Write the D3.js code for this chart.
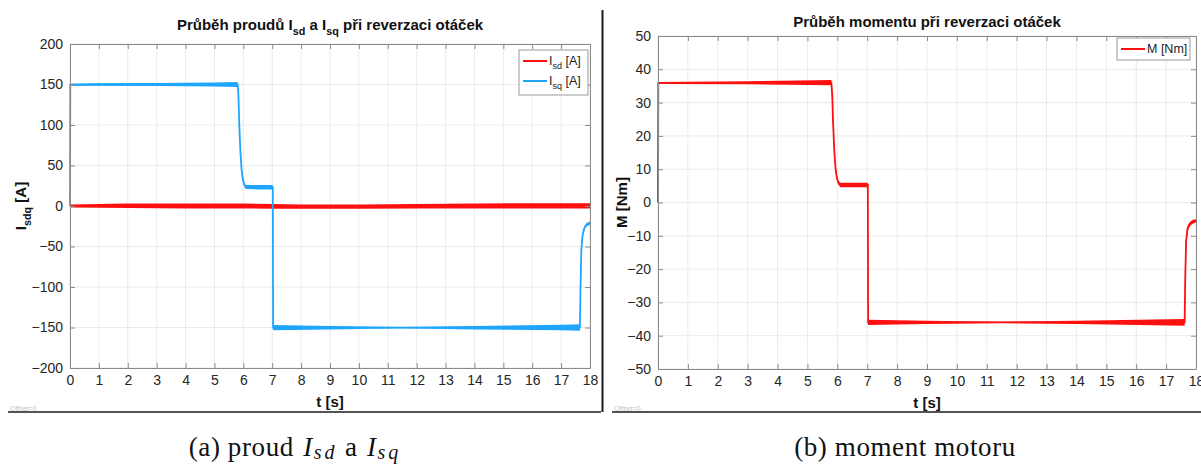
<!DOCTYPE html>
<html><head><meta charset="utf-8">
<script src="https://cdn.jsdelivr.net/npm/d3@7"></script>
<style>
body{margin:0;background:#fff;}
svg{display:block;font-family:"Liberation Sans",Arial,sans-serif;}
</style>
</head><body>
<svg id="c" width="1201" height="465"></svg>
<script>
// ---------- tick labels ----------
const timeTicks = [0,1,2,3,4,5,6,7,8,9,10,11,12,13,14,15,16,17,18];
const currentTicks = [-200,-150,-100,-50,0,50,100,150,200];
const torqueTicks = [-50,-40,-30,-20,-10,0,10,20,30,40,50];

// ---------- I_sq envelope (t [s], lower, upper) ----------
const isqT  = [0, 0.01, 1, 3, 5, 5.8, 5.83, 5.86, 5.9, 5.94, 5.98, 6.02, 6.08, 6.5, 7.02, 7.03, 9, 11.5, 14, 17.0, 17.65, 17.67, 17.7, 17.74, 17.8, 17.88, 18];
const isqLo = [0, 148.5, 148.5, 148, 147.5, 147, 130, 95, 62, 42, 31, 25, 21, 20.5, 20.5, -153.5, -152.5, -151, -152.5, -153.5, -154, -110, -60, -40, -30, -25, -23];
const isqHi = [0, 151, 151.5, 152, 152.5, 153, 145, 105, 70, 48, 36, 30, 26, 26, 26, -147, -148, -149.5, -148, -146.5, -146, -100, -50, -34, -25, -21, -19];

// ---------- I_sd envelope ----------
const isdT  = [0, 2, 4, 6, 7, 8, 10, 12, 14, 16, 18];
const isdLo = [-2, -2.5, -3, -3, -3.5, -3.5, -3.5, -3, -3, -3, -3];
const isdHi = [2, 3, 3, 3, 2.5, 2, 2, 2.5, 3, 3.5, 3.5];

// ---------- M envelope ----------
const mT  = [0, 0.01, 3, 5.8, 5.83, 5.86, 5.9, 5.94, 5.98, 6.03, 6.1, 7.02, 7.03, 9, 11.5, 14, 17.6, 17.62, 17.64, 17.67, 17.72, 17.8, 17.9, 18];
const mLo = [0, 35.6, 35.5, 35.2, 30, 22, 14, 9.5, 7, 5.5, 4.6, 4.6, -36.8, -36.5, -36.2, -36.5, -37, -37, -25, -13, -8.5, -7, -6.3, -6];
const mHi = [0, 36.2, 36.4, 36.8, 34, 25, 16.5, 11, 8.3, 6.5, 5.9, 5.9, -35.2, -35.5, -35.8, -35.5, -35, -35, -20, -10, -7, -5.8, -5.2, -5];

const RED = "#ff1010", BLUE = "#1ea6ff";
const svg = d3.select("#c");

function sub(sel, main, s, rest, fs) {
  sel.append("tspan").text(main);
  sel.append("tspan").attr("dy", fs*0.3).attr("font-size", fs*0.72).text(s);
  sel.append("tspan").attr("dy", -fs*0.3).text(rest);
}

function panel(o) {
  const g = svg.append("g");
  const x = d3.scaleLinear().domain([0,18]).range([o.x0,o.x1]);
  const y = d3.scaleLinear().domain(o.yDomain).range([o.y1,o.y0]);
  // grid
  g.append("g").selectAll("line").data(timeTicks).join("line")
    .attr("x1",d=>x(d)).attr("x2",d=>x(d)).attr("y1",o.y0).attr("y2",o.y1)
    .attr("stroke","#ebebeb").attr("stroke-width",1);
  g.append("g").selectAll("line").data(o.yTicks).join("line")
    .attr("y1",d=>y(d)).attr("y2",d=>y(d)).attr("x1",o.x0).attr("x2",o.x1)
    .attr("stroke","#ebebeb").attr("stroke-width",1);
  // series
  o.series.forEach(s => {
    const pts = s.t.map((t,i)=>({t, lo:s.lo[i], hi:s.hi[i]}));
    g.append("path").datum(pts)
      .attr("d", d3.area().x(d=>x(d.t)).y0(d=>y(d.lo)).y1(d=>y(d.hi)))
      .attr("fill", s.color);
    g.append("path").datum(pts)
      .attr("d", d3.line().x(d=>x(d.t)).y(d=>y((d.lo+d.hi)/2)))
      .attr("fill","none").attr("stroke", s.color).attr("stroke-width",1.8);
  });
  // axes with inward ticks
  const ax = (gen, tr) => {
    const a = g.append("g").attr("transform", tr).call(gen);
    a.select(".domain").attr("stroke","#8a8a8a");
    a.selectAll(".tick line").attr("stroke","#8a8a8a");
    a.selectAll("text").attr("fill","#262626").attr("font-size",14)
      .attr("font-family",'"Liberation Sans",Arial,sans-serif');
    return a;
  };
  ax(d3.axisBottom(x).tickValues(timeTicks).tickSize(-5).tickPadding(7).tickSizeOuter(0), `translate(0,${o.y1})`);
  ax(d3.axisTop(x).tickValues(timeTicks).tickSize(-5).tickFormat("").tickSizeOuter(0), `translate(0,${o.y0})`);
  ax(d3.axisLeft(y).tickValues(o.yTicks).tickSize(-5).tickPadding(7).tickSizeOuter(0), `translate(${o.x0},0)`);
  ax(d3.axisRight(y).tickValues(o.yTicks).tickSize(-5).tickFormat("").tickSizeOuter(0), `translate(${o.x1},0)`);
  // x label
  g.append("text").attr("x",(o.x0+o.x1)/2).attr("y",o.y1+39).attr("text-anchor","middle")
    .attr("font-weight","bold").attr("font-size",15).attr("fill","#111").text("t [s]");
  // y label
  const yl = g.append("text").attr("transform",`translate(${o.ylx},${(o.y0+o.y1)/2}) rotate(-90)`)
    .attr("text-anchor","middle").attr("font-weight","bold").attr("font-size",15).attr("fill","#111");
  o.ylabel(yl);
  // title
  const tt = g.append("text").attr("x",(o.x0+o.x1)/2).attr("y",o.titleY).attr("text-anchor","middle")
    .attr("font-weight","bold").attr("font-size",15).attr("fill","#111");
  o.title(tt);
  // legend
  const L = o.legend;
  g.append("rect").attr("x",L.x).attr("y",L.y).attr("width",L.w).attr("height",L.h)
    .attr("fill","#fff").attr("stroke","#999").attr("stroke-width",1);
  L.items.forEach((it,i) => {
    const yy = L.y + L.first + i*L.step;
    g.append("line").attr("x1",L.x+4).attr("x2",L.x+28).attr("y1",yy).attr("y2",yy)
      .attr("stroke",it.color).attr("stroke-width",2);
    const t = g.append("text").attr("x",L.x+30).attr("y",yy+4).attr("font-size",12.5).attr("fill","#222");
    it.label(t);
  });
  // offset note
  g.append("text").attr("x",o.offX).attr("y",411).attr("font-size",7).attr("fill","#c4c4c4").text("Offset=0");
}

panel({
  x0:70, x1:590, y0:44, y1:368, yDomain:[-200,200], yTicks:currentTicks, ylx:26, titleY:30, offX:10,
  series:[{t:isdT, lo:isdLo, hi:isdHi, color:RED},{t:isqT, lo:isqLo, hi:isqHi, color:BLUE}],
  ylabel: t => sub(t, "I", "sdq", " [A]", 15),
  title: t => { t.append("tspan").text("Průběh proudů "); sub(t,"I","sd"," a ",15); sub(t,"I","sq"," při reverzaci otáček",15); },
  legend:{x:519, y:50, w:69, h:45, first:11, step:20, items:[
    {color:RED, label:t=>sub(t,"I","sd"," [A]",12.5)},
    {color:BLUE, label:t=>sub(t,"I","sq"," [A]",12.5)}]}
});

panel({
  x0:658, x1:1196, y0:36, y1:369, yDomain:[-50,50], yTicks:torqueTicks, ylx:627, titleY:27, offX:614,
  series:[{t:mT, lo:mLo, hi:mHi, color:RED}],
  ylabel: t => t.text("M [Nm]"),
  title: t => t.text("Průběh momentu při reverzaci otáček"),
  legend:{x:1117, y:38, w:73, h:22, first:11, step:20, items:[
    {color:RED, label:t=>t.text("M [Nm]")}]}
});

// frame lines
svg.append("line").attr("x1",602.5).attr("x2",602.5).attr("y1",10).attr("y2",412).attr("stroke","#1a1a1a").attr("stroke-width",2);
svg.append("line").attr("x1",8).attr("x2",601).attr("y1",412).attr("y2",412).attr("stroke","#1a1a1a").attr("stroke-width",1.5);
svg.append("line").attr("x1",612).attr("x2",1201).attr("y1",412).attr("y2",412).attr("stroke","#1a1a1a").attr("stroke-width",1.5);

// captions
const cap = (cx, build) => {
  const t = svg.append("text").attr("x",cx).attr("y",456).attr("text-anchor","middle")
    .attr("font-family",'"Liberation Serif","Times New Roman",serif').attr("font-size",27)
    .attr("letter-spacing",0.6).attr("fill","#111");
  build(t);
};
cap(295, t => {
  t.append("tspan").text("(a) proud ");
  t.append("tspan").attr("font-style","italic").attr("dx",2).text("I");
  t.append("tspan").attr("font-style","italic").attr("font-size",20).attr("letter-spacing",3).attr("dx",1).attr("dy",3).text("sd");
  t.append("tspan").attr("dy",-3).text(" a ");
  t.append("tspan").attr("font-style","italic").attr("dx",2).text("I");
  t.append("tspan").attr("font-style","italic").attr("font-size",20).attr("letter-spacing",3).attr("dx",1).attr("dy",3).text("sq");
});
cap(905, t => t.text("(b) moment motoru"));
</script>
</body></html>
